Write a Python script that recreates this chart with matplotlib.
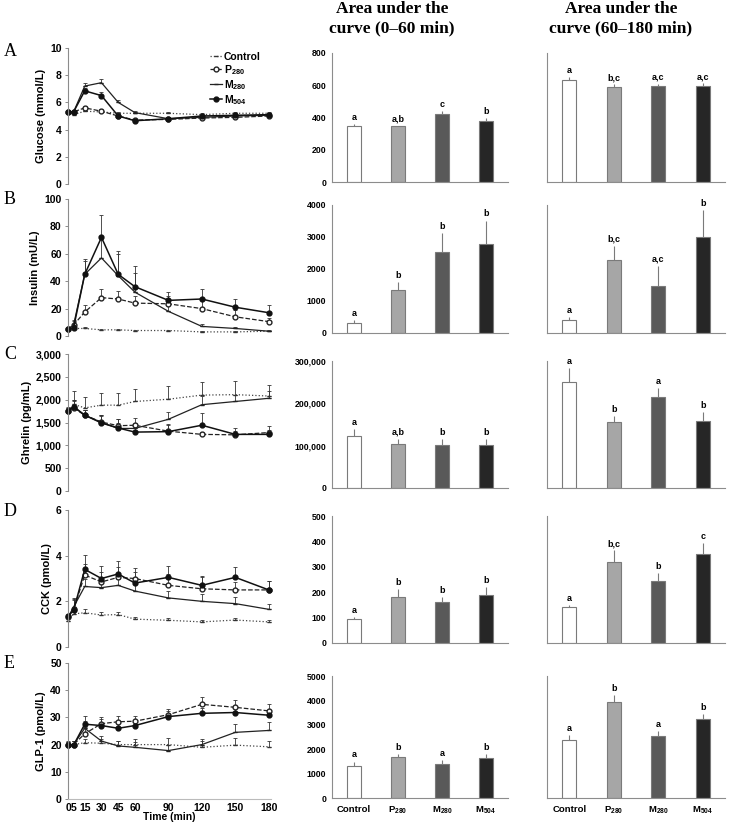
import matplotlib
matplotlib.use("Agg")
import matplotlib.pyplot as plt
from matplotlib.ticker import FuncFormatter
from matplotlib.lines import Line2D

plt.rcParams['font.family'] = ['Liberation Sans', 'DejaVu Sans']
plt.rcParams['mathtext.fontset'] = 'custom'
plt.rcParams['mathtext.rm'] = 'Liberation Sans:bold'
plt.rcParams['mathtext.bf'] = 'Liberation Sans:bold'
plt.rcParams['mathtext.default'] = 'rm'

# ---------------- data ----------------
times = [0, 5, 15, 30, 45, 60, 90, 120, 150, 180]
time_labels = ['0', '5', '15', '30', '45', '60', '90', '120', '150', '180']
groups = ['Control', 'P$_{280}$', 'M$_{280}$', 'M$_{504}$']

glu_ctrl = [5.3, 5.1, 5.35, 5.3, 5.2, 5.2, 5.2, 5.1, 5.2, 5.2]
glu_p280 = [5.3, 5.3, 5.6, 5.35, 5.0, 4.7, 4.75, 4.85, 4.9, 5.0]
glu_m280 = [5.3, 5.3, 7.2, 7.45, 6.0, 5.25, 4.8, 4.9, 5.0, 5.05]
glu_m504 = [5.3, 5.3, 6.85, 6.5, 5.0, 4.65, 4.8, 5.0, 5.05, 5.1]
glu_ctrl_err = [0.1, 0.1, 0.15, 0.15, 0.1, 0.1, 0.1, 0.1, 0.1, 0.1]
glu_p280_err = [0.1, 0.1, 0.15, 0.15, 0.1, 0.1, 0.1, 0.1, 0.1, 0.1]
glu_m280_err = [0.1, 0.1, 0.2, 0.25, 0.2, 0.15, 0.1, 0.1, 0.1, 0.1]
glu_m504_err = [0.1, 0.1, 0.2, 0.25, 0.15, 0.1, 0.1, 0.1, 0.1, 0.1]

ins_ctrl = [5, 5.5, 5.5, 4.5, 4.5, 4, 4, 3, 3, 3.5]
ins_p280 = [5, 8, 17.5, 28, 27, 24, 23.5, 20, 14, 10.5]
ins_m280 = [5, 8, 45, 57, 44, 32, 18, 7, 5.5, 3.5]
ins_m504 = [5, 6, 45, 72, 45, 36, 26, 27, 21, 17]
ins_ctrl_err = [0.5, 0.8, 0.8, 0.6, 0.6, 0.5, 0.5, 0.5, 0.5, 0.5]
ins_p280_err = [1, 3, 5, 6, 6, 5, 6, 6, 5, 3]
ins_m280_err = [1, 4, 10, 14, 16, 14, 6, 2, 1, 1]
ins_m504_err = [1, 3, 11, 16, 17, 15, 6, 7, 6, 5.5]

ghr_ctrl = [1750, 1900, 1820, 1880, 1880, 1960, 2010, 2100, 2110, 2080]
ghr_p280 = [1750, 1820, 1660, 1510, 1430, 1440, 1310, 1240, 1230, 1280]
ghr_m280 = [1750, 1840, 1660, 1500, 1370, 1370, 1570, 1890, 1960, 2030]
ghr_m504 = [1750, 1850, 1660, 1490, 1380, 1290, 1300, 1440, 1240, 1240]
ghr_ctrl_err = [80, 290, 230, 260, 260, 280, 290, 280, 290, 250]
ghr_p280_err = [60, 150, 120, 150, 150, 160, 150, 60, 80, 150]
ghr_m280_err = [60, 150, 120, 150, 120, 130, 170, 200, 150, 150]
ghr_m504_err = [60, 150, 120, 180, 200, 150, 150, 260, 150, 100]

cck_ctrl = [1.15, 1.45, 1.5, 1.4, 1.42, 1.22, 1.17, 1.1, 1.18, 1.1]
cck_p280 = [1.3, 1.65, 3.15, 2.85, 3.05, 3.0, 2.7, 2.55, 2.5, 2.5]
cck_m280 = [1.3, 1.75, 2.65, 2.6, 2.7, 2.45, 2.15, 2.0, 1.9, 1.65]
cck_m504 = [1.35, 1.6, 3.4, 3.0, 3.2, 2.8, 3.05, 2.7, 3.05, 2.5]
cck_ctrl_err = [0.1, 0.15, 0.15, 0.12, 0.12, 0.1, 0.1, 0.08, 0.1, 0.08]
cck_p280_err = [0.1, 0.4, 0.5, 0.45, 0.45, 0.45, 0.5, 0.5, 0.35, 0.4]
cck_m280_err = [0.1, 0.4, 0.35, 0.3, 0.3, 0.3, 0.3, 0.3, 0.3, 0.25]
cck_m504_err = [0.1, 0.5, 0.65, 0.55, 0.55, 0.5, 0.5, 0.4, 0.45, 0.4]

glp_ctrl = [20, 20, 20.7, 20.5, 20, 20, 20, 19, 19.8, 19.2]
glp_p280 = [20, 20, 24, 27.7, 28.4, 28.6, 31, 34.8, 33.7, 32.4]
glp_m280 = [20, 20, 26, 21.3, 19.5, 19, 17.8, 20, 24.5, 25.2]
glp_m504 = [20, 19.8, 27.5, 27, 26, 27, 30.3, 31.5, 31.8, 30.8]
glp_ctrl_err = [1.5, 1.5, 1.5, 1.5, 1.5, 2, 2.5, 2.5, 2.5, 2]
glp_p280_err = [1, 1.5, 2.5, 2.5, 2, 2, 2.2, 2.7, 2.6, 2.6]
glp_m280_err = [1, 1.5, 2.5, 2, 2, 2, 2, 2, 3, 3]
glp_m504_err = [1, 1.5, 3, 2.5, 2, 2, 2, 2, 2, 2]

auc060_glu = [345, 345, 420, 378]
auc060_glu_err = [15, 5, 18, 20]
auc060_glu_let = ['a', 'a,b', 'c', 'b']
auc60180_glu = [632, 590, 595, 593]
auc60180_glu_err = [17, 17, 15, 18]
auc60180_glu_let = ['a', 'b,c', 'a,c', 'a,c']

auc060_ins = [312, 1351, 2525, 2784]
auc060_ins_err = [100, 240, 590, 730]
auc060_ins_let = ['a', 'b', 'b', 'b']
auc60180_ins = [416, 2275, 1475, 2992]
auc60180_ins_err = [84, 450, 630, 850]
auc60180_ins_let = ['a', 'b,c', 'a,c', 'b']

auc060_ghr = [122000, 103500, 101000, 101000]
auc060_ghr_err = [17000, 12500, 14000, 14000]
auc060_ghr_let = ['a', 'a,b', 'b', 'b']
auc60180_ghr = [250000, 155000, 214500, 159000]
auc60180_ghr_err = [33000, 14000, 22000, 21000]
auc60180_ghr_let = ['a', 'b', 'a', 'b']

auc060_cck = [94, 180, 160, 189]
auc060_cck_err = [10, 31, 22, 30]
auc060_cck_let = ['a', 'b', 'b', 'b']
auc60180_cck = [141, 320, 245, 349]
auc60180_cck_err = [9, 45, 29, 46]
auc60180_cck_let = ['a', 'b,c', 'b', 'c']

auc060_glp = [1304, 1671, 1413, 1658]
auc060_glp_err = [190, 120, 150, 160]
auc060_glp_let = ['a', 'b', 'a', 'b']
auc60180_glp = [2364, 3927, 2541, 3220]
auc60180_glp_err = [220, 310, 220, 220]
auc60180_glp_let = ['a', 'b', 'a', 'b']

# ---------------- panel config ----------------
panels = [
    dict(letter='A', ylabel='Glucose (mmol/L)', ylim=10, yticks=[0, 2, 4, 6, 8, 10], comma=False,
         lines=[(glu_ctrl, glu_ctrl_err), (glu_p280, glu_p280_err), (glu_m280, glu_m280_err), (glu_m504, glu_m504_err)],
         b1=(auc060_glu, auc060_glu_err, auc060_glu_let), b2=(auc60180_glu, auc60180_glu_err, auc60180_glu_let),
         blim=800, bticks=[0, 200, 400, 600, 800]),
    dict(letter='B', ylabel='Insulin (mU/L)', ylim=100, yticks=[0, 20, 40, 60, 80, 100], comma=False,
         lines=[(ins_ctrl, ins_ctrl_err), (ins_p280, ins_p280_err), (ins_m280, ins_m280_err), (ins_m504, ins_m504_err)],
         b1=(auc060_ins, auc060_ins_err, auc060_ins_let), b2=(auc60180_ins, auc60180_ins_err, auc60180_ins_let),
         blim=4000, bticks=[0, 1000, 2000, 3000, 4000]),
    dict(letter='C', ylabel='Ghrelin (pg/mL)', ylim=3000, yticks=[0, 500, 1000, 1500, 2000, 2500, 3000], comma=True,
         lines=[(ghr_ctrl, ghr_ctrl_err), (ghr_p280, ghr_p280_err), (ghr_m280, ghr_m280_err), (ghr_m504, ghr_m504_err)],
         b1=(auc060_ghr, auc060_ghr_err, auc060_ghr_let), b2=(auc60180_ghr, auc60180_ghr_err, auc60180_ghr_let),
         blim=300000, bticks=[0, 100000, 200000, 300000]),
    dict(letter='D', ylabel='CCK (pmol/L)', ylim=6, yticks=[0, 2, 4, 6], comma=False,
         lines=[(cck_ctrl, cck_ctrl_err), (cck_p280, cck_p280_err), (cck_m280, cck_m280_err), (cck_m504, cck_m504_err)],
         b1=(auc060_cck, auc060_cck_err, auc060_cck_let), b2=(auc60180_cck, auc60180_cck_err, auc60180_cck_let),
         blim=500, bticks=[0, 100, 200, 300, 400, 500]),
    dict(letter='E', ylabel='GLP-1 (pmol/L)', ylim=50, yticks=[0, 10, 20, 30, 40, 50], comma=False,
         lines=[(glp_ctrl, glp_ctrl_err), (glp_p280, glp_p280_err), (glp_m280, glp_m280_err), (glp_m504, glp_m504_err)],
         b1=(auc060_glp, auc060_glp_err, auc060_glp_let), b2=(auc60180_glp, auc60180_glp_err, auc60180_glp_let),
         blim=5000, bticks=[0, 1000, 2000, 3000, 4000, 5000]),
]

W, H = 729, 831
fig = plt.figure(figsize=(W / 100, H / 100), dpi=100)

def fr(left, top, right, bottom):
    return [left / W, 1 - bottom / H, (right - left) / W, (bottom - top) / H]

line_rows = [(48, 184), (199, 336), (354, 491), (510, 647), (663, 799)]
bar_rows = [(53, 182), (205, 333), (361, 488), (516, 643), (676, 798)]
letter_y = [52, 200, 354, 511, 663]

styles = [
    dict(ls=':', marker='_', ms=3, mfc='#333333', mec='#333333', color='#444444', lw=0.9),
    dict(ls='--', marker='o', ms=3.5, mfc='white', mec='#222222', color='#222222', lw=0.9),
    dict(ls='-', marker='_', ms=3, mfc='#222222', mec='#222222', color='#222222', lw=0.9),
    dict(ls='-', marker='o', ms=3.5, mfc='#111111', mec='#111111', color='#111111', lw=1.1),
]
bar_colors = ['white', '#a6a6a6', '#595959', '#262626']
axis_col = '#8c8c8c'

comma_fmt = FuncFormatter(lambda v, p: f'{int(v):,}')
plain_fmt = FuncFormatter(lambda v, p: f'{int(v)}' if float(v).is_integer() else f'{v}')

for i, P in enumerate(panels):
    lt, lb = line_rows[i]
    ax = fig.add_axes(fr(68, lt, 271, lb))
    for (vals, errs), st, lab in zip(P['lines'], styles, groups):
        ax.errorbar(times, vals, yerr=[[0] * len(errs), errs], capsize=1.5,
                    elinewidth=0.6, ecolor='#333333', capthick=0.6, clip_on=False, **st)
    ax.set_xlim(0, 182)
    ax.set_ylim(0, P['ylim'])
    ax.set_yticks(P['yticks'])
    ax.yaxis.set_major_formatter(comma_fmt if P['comma'] else plain_fmt)
    for s in ['top', 'right']:
        ax.spines[s].set_visible(False)
    ax.spines['left'].set_color(axis_col)
    ax.spines['left'].set_linewidth(0.8)
    ax.tick_params(axis='y', length=2.5, width=0.7, color=axis_col, pad=2, labelsize=7.5)
    for t in ax.get_yticklabels():
        t.set_fontweight('bold')
    ax.set_ylabel(P['ylabel'], fontsize=8, fontweight='bold', labelpad=3)
    if i == 4:
        ax.spines['bottom'].set_color('#bbbbbb')
        ax.spines['bottom'].set_linewidth(0.8)
        ax.set_xticks(times)
        ax.set_xticklabels(time_labels, fontsize=7.5, fontweight='bold')
        ax.tick_params(axis='x', length=0, pad=3)
        ax.set_xlabel('Time (min)', fontsize=7.5, fontweight='bold', labelpad=-1)
    else:
        ax.spines['bottom'].set_visible(False)
        ax.set_xticks([])
    if i == 0:
        handles = [Line2D([], [], **st) for st in styles]
        leg = ax.legend(handles, groups, loc='upper left', bbox_to_anchor=(0.67, 1.02), frameon=False,
                        fontsize=7.5, handlelength=1.1, handletextpad=0.2,
                        labelspacing=0.12, borderaxespad=0.2)
        for t in leg.get_texts():
            t.set_fontweight('bold')
    fig.text(4 / W, 1 - letter_y[i] / H, P['letter'], fontsize=13, family='Liberation Serif',
             va='center', ha='left')

    bt, bb = bar_rows[i]
    for j, (key, xl, xr) in enumerate([('b1', 332, 508), ('b2', 547, 725)]):
        bx = fig.add_axes(fr(xl, bt, xr, bb))
        vals, errs, lets = P[key]
        xs = list(range(len(vals)))
        bx.bar(xs, vals, width=0.32, color=bar_colors, edgecolor='#7a7a7a', linewidth=0.8, zorder=2)
        bx.errorbar(xs, vals, yerr=[[0] * len(errs), errs], fmt='none', ecolor='#7a7a7a',
                    elinewidth=0.8, capsize=0, zorder=1)
        for x, v, e, l in zip(xs, vals, errs, lets):
            bx.annotate(l, (x, v + e), xytext=(0, 1.5), textcoords='offset points',
                        ha='center', va='bottom', fontsize=6.5, fontweight='bold')
        bx.set_xlim(-0.5, 3.5)
        bx.set_ylim(0, P['blim'])
        for s in ['top', 'right']:
            bx.spines[s].set_visible(False)
        for s in ['left', 'bottom']:
            bx.spines[s].set_color(axis_col)
            bx.spines[s].set_linewidth(0.8)
        bx.set_yticks(P['bticks'])
        bx.yaxis.set_major_formatter(comma_fmt if P['comma'] else plain_fmt)
        bx.tick_params(axis='y', length=0, pad=4, labelsize=6.3)
        for t in bx.get_yticklabels():
            t.set_fontweight('bold')
        if j == 1:
            bx.set_yticklabels([])
        if i == 4:
            bx.set_xticks(xs)
            bx.set_xticklabels(groups, fontsize=6.8, fontweight='bold')
            bx.tick_params(axis='x', length=0, pad=5)
        else:
            bx.set_xticks([])

fig.text(392 / W, 1 - 1 / H, 'Area under the\ncurve (0\u201360 min)', ha='center', va='top',
         fontsize=12.5, fontweight='bold', family='Liberation Serif', linespacing=1.25)
fig.text(621 / W, 1 - 1 / H, 'Area under the\ncurve (60\u2013180 min)', ha='center', va='top',
         fontsize=12.5, fontweight='bold', family='Liberation Serif', linespacing=1.25)

fig.savefig('out.png', dpi=100, facecolor='white')
